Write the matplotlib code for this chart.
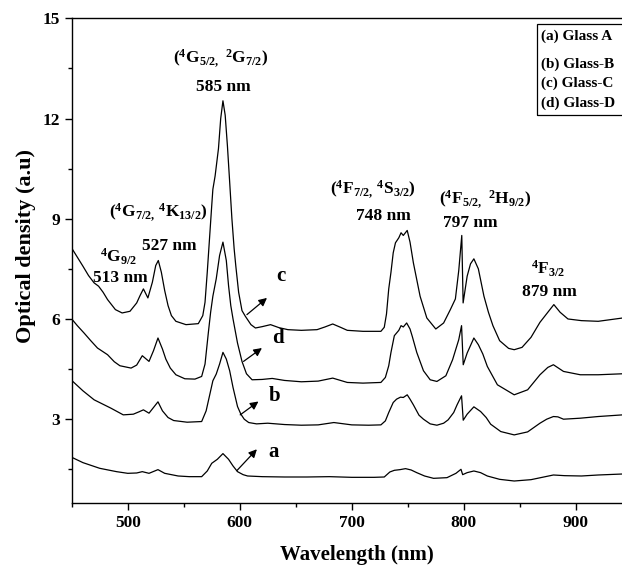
import matplotlib
matplotlib.use("Agg")
import matplotlib.pyplot as plt
from matplotlib.patches import Rectangle
from matplotlib.ticker import MultipleLocator

plt.rcParams["font.family"] = "Liberation Serif"
plt.rcParams["font.weight"] = "bold"
plt.rcParams["mathtext.fontset"] = "custom"
plt.rcParams["mathtext.rm"] = "Liberation Serif:bold"
plt.rcParams["mathtext.it"] = "Liberation Serif:bold"
plt.rcParams["mathtext.bf"] = "Liberation Serif:bold"

# absorption spectra, offset by glass
wl_a = [450, 460, 475, 490, 500, 508, 513, 519, 527, 533, 545, 555, 566, 571, 575, 580,
        585, 590, 594, 598, 603, 607, 620, 640, 660, 680, 700, 720, 729, 734, 738, 743,
        748, 753, 758, 765, 773, 785, 793, 797.5, 799, 803, 809, 815, 821, 832, 845, 860,
        880, 890, 905, 920, 942]
od_a = [1.86, 1.70, 1.53, 1.43, 1.38, 1.39, 1.43, 1.38, 1.49, 1.38, 1.30, 1.28, 1.28,
        1.45, 1.68, 1.80, 1.97, 1.80, 1.60, 1.43, 1.34, 1.30, 1.28, 1.27, 1.27, 1.28,
        1.26, 1.26, 1.27, 1.42, 1.47, 1.49, 1.52, 1.48, 1.40, 1.30, 1.23, 1.25, 1.38,
        1.50, 1.34, 1.40, 1.45, 1.40, 1.30, 1.20, 1.15, 1.19, 1.33, 1.31, 1.30, 1.33, 1.36]

wl_b = [450, 460, 470, 476, 485, 496, 505, 510, 514, 519, 523, 527, 531, 536, 541, 553,
        566, 570, 573, 576, 579, 582, 585, 588, 591, 594, 598, 601, 604, 608, 615, 625,
        640, 655, 670, 684, 700, 715, 726, 730, 733, 737, 740, 743.5, 746, 749.5, 752,
        755, 760, 764, 770, 776, 782, 786, 791, 794, 796.5, 798, 799.5, 803, 809, 815,
        820, 824, 833, 845, 857, 868, 874, 880, 884, 889, 904, 920, 942]
od_b = [4.16, 3.85, 3.58, 3.48, 3.33, 3.13, 3.15, 3.22, 3.28, 3.18, 3.35, 3.52, 3.25,
        3.05, 2.96, 2.91, 2.93, 3.25, 3.70, 4.15, 4.35, 4.65, 5.00, 4.80, 4.45, 3.95,
        3.38, 3.15, 3.00, 2.90, 2.86, 2.88, 2.84, 2.82, 2.83, 2.90, 2.83, 2.82, 2.83,
        2.95, 3.20, 3.50, 3.60, 3.66, 3.65, 3.73, 3.60, 3.43, 3.12, 3.00, 2.86, 2.82,
        2.88, 2.98, 3.20, 3.43, 3.60, 3.70, 2.97, 3.15, 3.37, 3.23, 3.05, 2.85, 2.63,
        2.53, 2.62, 2.88, 3.00, 3.08, 3.07, 3.00, 3.03, 3.08, 3.13]

wl_c = [450, 455, 460, 465, 470, 474, 478, 482, 489, 495, 502, 508, 511, 514, 518, 522,
        525, 527.3, 530, 533, 536, 539, 543, 552, 563, 567, 569, 571, 573, 575, 576, 578,
        581, 583, 585, 587, 589, 591, 593, 595, 596.5, 599, 602, 605, 610, 614, 620,
        627.5, 635, 643, 655, 669, 676, 683, 690, 696, 710, 726, 729, 731, 733, 735, 737,
        739, 742, 744, 746, 749.5, 752, 755, 761, 767, 775, 782, 788, 792.5, 795.5,
        798.2, 799.4, 803, 806, 809, 813, 818, 822, 826, 832, 840, 845, 852, 860, 868,
        875, 880.4, 886, 893, 905, 920, 942]
od_c = [8.12, 7.85, 7.58, 7.30, 7.08, 6.98, 6.80, 6.58, 6.28, 6.18, 6.23, 6.48, 6.70,
        6.90, 6.63, 7.10, 7.60, 7.75, 7.40, 6.85, 6.40, 6.10, 5.93, 5.83, 5.86, 6.10,
        6.50, 7.40, 8.40, 9.40, 9.88, 10.28, 11.10, 12.00, 12.53, 12.10, 11.18, 10.10,
        9.00, 8.10, 7.58, 6.80, 6.25, 6.08, 5.83, 5.73, 5.77, 5.83, 5.74, 5.68, 5.66,
        5.68, 5.76, 5.85, 5.75, 5.66, 5.63, 5.63, 5.75, 6.15, 6.90, 7.40, 7.98, 8.28,
        8.43, 8.58, 8.50, 8.65, 8.30, 7.68, 6.68, 6.03, 5.70, 5.88, 6.28, 6.60, 7.45,
        8.50, 6.48, 7.28, 7.65, 7.80, 7.50, 6.68, 6.20, 5.80, 5.35, 5.12, 5.08, 5.15,
        5.45, 5.90, 6.20, 6.43, 6.20, 6.00, 5.95, 5.93, 6.03]

wl_d = [450, 455, 461, 467, 473, 482, 488, 493, 503, 508, 513, 519, 523, 527, 531, 534,
        538, 543, 551, 560, 566, 569, 572, 574, 576, 579, 582, 585, 588, 590, 592, 594,
        598, 602, 606, 611, 620, 629, 640, 655, 670, 683, 696, 710, 726, 730, 733, 735,
        738, 742, 744, 746, 749, 752, 754, 758, 764, 770, 776, 784, 790, 795.5, 798,
        799.5, 803, 809, 813, 817, 821, 830, 845, 857, 868, 875, 880, 889, 904, 920, 942]
od_d = [6.00, 5.80, 5.58, 5.35, 5.13, 4.93, 4.72, 4.60, 4.53, 4.62, 4.90, 4.73, 5.05,
        5.43, 5.10, 4.80, 4.53, 4.33, 4.21, 4.20, 4.28, 4.65, 5.60, 6.20, 6.68, 7.20,
        7.90, 8.30, 7.75, 7.00, 6.40, 6.00, 5.28, 4.73, 4.36, 4.18, 4.19, 4.22, 4.16,
        4.12, 4.14, 4.23, 4.10, 4.08, 4.10, 4.25, 4.60, 5.00, 5.50, 5.66, 5.80, 5.76,
        5.88, 5.70, 5.48, 5.00, 4.45, 4.18, 4.13, 4.30, 4.78, 5.38, 5.80, 4.63, 4.98,
        5.43, 5.23, 4.95, 4.58, 4.03, 3.73, 3.88, 4.33, 4.55, 4.63, 4.43, 4.33, 4.33, 4.36]

glass_names = ["(a) Glass A", "(b) Glass-B", "(c) Glass-C", "(d) Glass-D"]
curve_tags = ["a", "b", "c", "d"]

fig = plt.figure(figsize=(6.22, 5.66), dpi=100)
ax = fig.add_axes([0.1153, 0.1118, 0.9185, 0.8559])

for wl, od in [(wl_a, od_a), (wl_b, od_b), (wl_c, od_c), (wl_d, od_d)]:
    ax.plot(wl, od, color="black", lw=0.9)

ax.set_xlim(450, 960)
ax.set_ylim(0.5, 15)
ax.xaxis.set_major_locator(MultipleLocator(100))
ax.xaxis.set_minor_locator(MultipleLocator(50))
ax.yaxis.set_major_locator(MultipleLocator(3))
ax.yaxis.set_minor_locator(MultipleLocator(1.5))
ax.tick_params(which="major", direction="out", length=5, width=1, labelsize=12.5)
ax.tick_params(which="minor", direction="out", length=3, width=1)
for s in ax.spines.values():
    s.set_linewidth(1)

ax.set_xlabel("Wavelength (nm)", fontsize=15, fontweight="bold")
ax.set_ylabel("Optical density (a.u)", fontsize=16, fontweight="bold")
ax.xaxis.set_label_coords(0.5, -0.087)
ax.yaxis.set_label_coords(-0.063, 0.53)

# transition labels
fs = 12.5
ax.text(583, 13.8, r"$(^{4}\mathrm{G}_{5/2,}\ ^{2}\mathrm{G}_{7/2})$", fontsize=fs, ha="center", va="center")
ax.text(585, 12.93, "585 nm", fontsize=fs, ha="center", va="center")
ax.text(527, 9.2, r"$(^{4}\mathrm{G}_{7/2,}\,^{4}\mathrm{K}_{13/2})$", fontsize=fs, ha="center", va="center")
ax.text(537, 8.17, "527 nm", fontsize=fs, ha="center", va="center")
ax.text(492, 7.85, r"$^{4}\mathrm{G}_{9/2}$", fontsize=fs, ha="center", va="center")
ax.text(493, 7.23, "513 nm", fontsize=fs, ha="center", va="center")
ax.text(719, 9.88, r"$(^{4}\mathrm{F}_{7/2,}\,^{4}\mathrm{S}_{3/2})$", fontsize=fs, ha="center", va="center")
ax.text(728, 9.08, "748 nm", fontsize=fs, ha="center", va="center")
ax.text(819, 9.6, r"$(^{4}\mathrm{F}_{5/2,}\ ^{2}\mathrm{H}_{9/2})$", fontsize=fs, ha="center", va="center")
ax.text(806, 8.88, "797 nm", fontsize=fs, ha="center", va="center")
ax.text(875, 7.5, r"$^{4}\mathrm{F}_{3/2}$", fontsize=fs, ha="center", va="center")
ax.text(876.5, 6.8, "879 nm", fontsize=fs, ha="center", va="center")

# curve tags with arrows
arrow_tail = [(597.4, 1.46), (600.4, 3.13), (606.4, 6.13), (603.4, 4.73)]
arrow_head = [(615.3, 2.10), (616.7, 3.53), (624.3, 6.63), (619.8, 5.13)]
tag_pos = [(626, 2.03), (626, 3.68), (633, 7.28), (629, 5.43)]
for tag, tail, head, pos in zip(curve_tags, arrow_tail, arrow_head, tag_pos):
    ax.annotate("", xy=head, xytext=tail,
                arrowprops=dict(arrowstyle="-|>", color="black", lw=0.9,
                                mutation_scale=12, shrinkA=0, shrinkB=0))
    ax.text(pos[0], pos[1], tag, fontsize=15, ha="left", va="center")

# legend box
ax.add_patch(Rectangle((865, 12.12), 90, 2.7, fill=False, edgecolor="black", lw=0.9))
legend_y = [14.47, 13.63, 13.06, 12.46]
for name, y in zip(glass_names, legend_y):
    ax.text(869.3, y, name, fontsize=11, ha="left", va="center")

fig.savefig("out.png", dpi=100)
